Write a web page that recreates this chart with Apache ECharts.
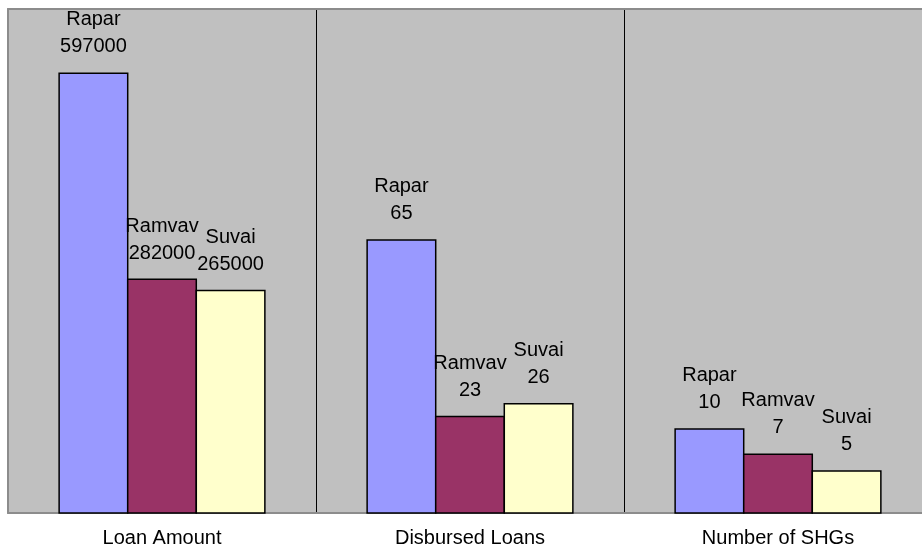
<!DOCTYPE html>
<html>
<head>
<meta charset="utf-8">
<script src="https://cdn.jsdelivr.net/npm/echarts@6/dist/echarts.min.js"></script>
<style>html,body{margin:0;padding:0;background:#fff}#c{width:922px;height:548px}</style>
</head>
<body>
<div id="c"></div>
<script>
var categories = ['Loan Amount', 'Disbursed Loans', 'Number of SHGs'];
var seriesNames = ['Rapar', 'Ramvav', 'Suvai'];
var rapar = [597000, 65, 10];
var ramvav = [282000, 23, 7];
var suvai = [265000, 26, 5];
var panelMin = [-75000, 0, 0];
var panelMax = [695000, 120, 60];

var values = [rapar, ramvav, suvai];
var colors = ['#9999FF', '#993366', '#FFFFCC'];
var font = '"Liberation Sans", Arial, sans-serif';
var panelLeft = [8, 316, 624];
var panelWidth = 308;
var groupFrac = 0.668;

var grids = [], xAxes = [], yAxes = [], series = [];
for (var i = 0; i < categories.length; i++) {
  grids.push({left: panelLeft[i], width: panelWidth, top: 9, bottom: 35, show: true,
    backgroundColor: '#C0C0C0', borderWidth: 0});
  xAxes.push({type: 'category', gridIndex: i, position: 'bottom', data: [categories[i]],
    axisLine: {show: true, onZero: false, lineStyle: {color: '#8c8c8c', width: 2}},
    axisTick: {show: false},
    axisLabel: {show: i < 2, color: '#000', fontSize: 20, fontFamily: font, margin: 15}});
  xAxes.push({type: 'category', gridIndex: i, position: 'top', data: [categories[i]],
    axisLine: {show: true, onZero: false, lineStyle: {color: '#8c8c8c', width: 2}},
    axisTick: {show: false}, axisLabel: {show: false}});
  yAxes.push({type: 'value', gridIndex: i, min: panelMin[i], max: panelMax[i],
    axisLine: {show: true, onZero: false, lineStyle: {color: i === 0 ? '#8c8c8c' : '#000', width: i === 0 ? 2 : 1}},
    axisTick: {show: false}, axisLabel: {show: false}, splitLine: {show: false}});
  for (var j = 0; j < seriesNames.length; j++) {
    (function (pi, sj) {
      series.push({type: 'custom', name: seriesNames[sj], xAxisIndex: pi * 2, yAxisIndex: pi,
        data: [[0, values[sj][pi]]],
        renderItem: function (params, api) {
          var v = api.value(1);
          var topPt = api.coord([api.value(0), v]);
          var basePt = api.coord([api.value(0), panelMin[pi]]);
          var band = api.size([1, 0])[0];
          var center = topPt[0] - band / 2 + panelWidth / 2;
          var bw = panelWidth * groupFrac / 3;
          var x = center - panelWidth * groupFrac / 2 + sj * bw;
          var children = [{
            type: 'rect',
            shape: {x: x, y: topPt[1], width: bw, height: basePt[1] - topPt[1]},
            style: {fill: colors[sj], stroke: '#000', lineWidth: 1.5},
            textContent: {style: {text: seriesNames[sj] + '\n' + v, fill: '#000',
              fontSize: 20, lineHeight: 27, fontFamily: font, align: 'center'}},
            textConfig: {position: 'top', distance: 12}
          }];
          if (pi === 2 && sj === 0) {
            children.push({type: 'text', style: {text: categories[pi], x: center, y: basePt[1] + 15,
              fill: '#000', fontSize: 20, fontFamily: font, align: 'center', verticalAlign: 'top'}});
          }
          return {type: 'group', children: children};
        },
        clip: false,
        animation: false});
    })(i, j);
  }
}

var chart = echarts.init(document.getElementById('c'));
chart.setOption({animation: false, grid: grids, xAxis: xAxes, yAxis: yAxes, series: series});
</script>
</body>
</html>
